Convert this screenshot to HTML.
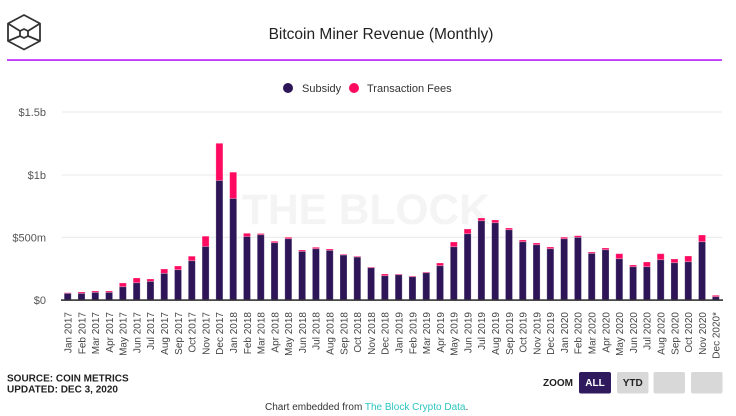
<!DOCTYPE html>
<html><head><meta charset="utf-8"><style>
html,body{margin:0;padding:0;background:#fff;}
body{width:736px;height:416px;overflow:hidden;font-family:"Liberation Sans",sans-serif;}
svg{display:block;}
</style></head><body>
<svg width="736" height="416" viewBox="0 0 736 416" xmlns="http://www.w3.org/2000/svg" font-family="Liberation Sans, sans-serif">
<rect width="736" height="416" fill="#fff"/>
<!-- logo -->
<g fill="none" stroke="#333" stroke-width="1.8" stroke-linejoin="round">
<polygon points="24,15 40,23.5 40,41 24,49.5 8,41 8,23.5"/>
<polygon points="24,29 28,31 28,36 24,38 20,36 20,31"/>
<line x1="8" y1="23.5" x2="20" y2="31"/><line x1="40" y1="23.5" x2="28" y2="31"/>
<line x1="8" y1="41" x2="20" y2="36"/><line x1="40" y1="41" x2="28" y2="36"/>
</g>
<text x="381" y="39" text-anchor="middle" font-size="15.5" fill="#222">Bitcoin Miner Revenue (Monthly)</text>
<rect x="7" y="59.3" width="715" height="1.5" fill="#b20cf8"/>
<!-- legend -->
<circle cx="288" cy="88" r="5" fill="#2d1557"/>
<text x="302" y="92" font-size="11" fill="#333">Subsidy</text>
<circle cx="354" cy="88" r="5" fill="#ff0a60"/>
<text x="367" y="92" font-size="11" fill="#333">Transaction Fees</text>
<!-- watermark -->
<text x="242" y="224" font-size="42.5" font-weight="bold" fill="#f4f4f4">THE BLOCK</text>
<!-- grid -->
<g fill="#e8e8e8">
<rect x="62" y="111.5" width="660" height="1"/>
<rect x="62" y="174.5" width="660" height="1"/>
<rect x="62" y="236.8" width="660" height="1"/>
</g>
<g font-size="11" fill="#555" text-anchor="end">
<text x="46" y="116">$1.5b</text>
<text x="46" y="179">$1b</text>
<text x="46" y="241.5">$500m</text>
<text x="46" y="304">$0</text>
</g>
<g id="bars" stroke="#ffffff" stroke-opacity="0.3" stroke-width="0.8"></g>
<rect x="61" y="299.3" width="662" height="1.6" fill="#333"/>
<g id="labels" font-size="10" fill="#444"></g>
<!-- footer -->
<g font-size="10" font-weight="bold" fill="#222">
<text x="7" y="381.3">SOURCE: COIN METRICS</text>
<text x="7" y="392.7">UPDATED: DEC 3, 2020</text>
<text x="543" y="386">ZOOM</text>
</g>
<rect x="579" y="372" width="32" height="21.5" rx="2" fill="#2e1a5c"/>
<text x="595" y="386" text-anchor="middle" font-size="10" font-weight="bold" fill="#fff">ALL</text>
<rect x="617" y="372" width="31.5" height="21.5" rx="2" fill="#d8d8d8"/>
<text x="632.7" y="386" text-anchor="middle" font-size="10" font-weight="bold" fill="#222">YTD</text>
<rect x="653.5" y="372" width="31.5" height="21.5" rx="2" fill="#d8d8d8"/>
<rect x="691" y="372" width="31.5" height="21.5" rx="2" fill="#d8d8d8"/>
<text x="265" y="410" font-size="10" fill="#333">Chart embedded from <tspan fill="#2cc5bf">The Block Crypto Data</tspan>.</text>
</svg>
<script>
(function(){
var d=[[292.7,293.3],[292,293.3],[291,292.3],[291,292.3],[283,286.7],[278,282.7],[279,281.3],[269,273.3],[266,269.7],[256.2,260.7],[236.2,246.5],[143.3,180.5],[172.2,198.5],[233.3,236.5],[233.5,234.7],[241.3,242.7],[237.3,238.7],[250,251.3],[247.3,248.7],[249,250.3],[254.3,255],[256.3,257],[267,267.7],[274,275.7],[274,274.7],[276,276.7],[272,272.7],[263,265.7],[242,246.7],[229,233.7],[218,220.7],[220,222.7],[228,229.7],[240,241.7],[243,244.7],[247,248.7],[237.2,238.7],[235.7,237.3],[252,253.3],[248,249.7],[253.7,258.7],[265,266.7],[262,266.7],[253.7,259.7],[259,262.7],[256,261.7],[235,241.7],[295.3,296.7]];
var m=["Jan","Feb","Mar","Apr","May","Jun","Jul","Aug","Sep","Oct","Nov","Dec"];
var ns="http://www.w3.org/2000/svg";
var g=document.getElementById("bars"),L=document.getElementById("labels");
for(var i=0;i<48;i++){
var c=67.7+13.79*i,x=c-3.5;
var r1=document.createElementNS(ns,"rect");
r1.setAttribute("x",x);r1.setAttribute("y",d[i][1]);r1.setAttribute("width",7);r1.setAttribute("height",300-d[i][1]);r1.setAttribute("fill","#2d1557");g.appendChild(r1);
if(d[i][1]-d[i][0]>0.3){var r2=document.createElementNS(ns,"rect");
r2.setAttribute("x",x);r2.setAttribute("y",d[i][0]);r2.setAttribute("width",7);r2.setAttribute("height",d[i][1]-d[i][0]);r2.setAttribute("fill","#ff0a60");g.appendChild(r2);}
var t=document.createElementNS(ns,"text");
t.setAttribute("transform","translate("+(c+3.8)+",312) rotate(-90)");
t.setAttribute("text-anchor","end");
t.textContent=m[i%12]+" "+(2017+Math.floor(i/12))+(i==47?"*":"");
L.appendChild(t);}
})();
</script>
</body></html>
